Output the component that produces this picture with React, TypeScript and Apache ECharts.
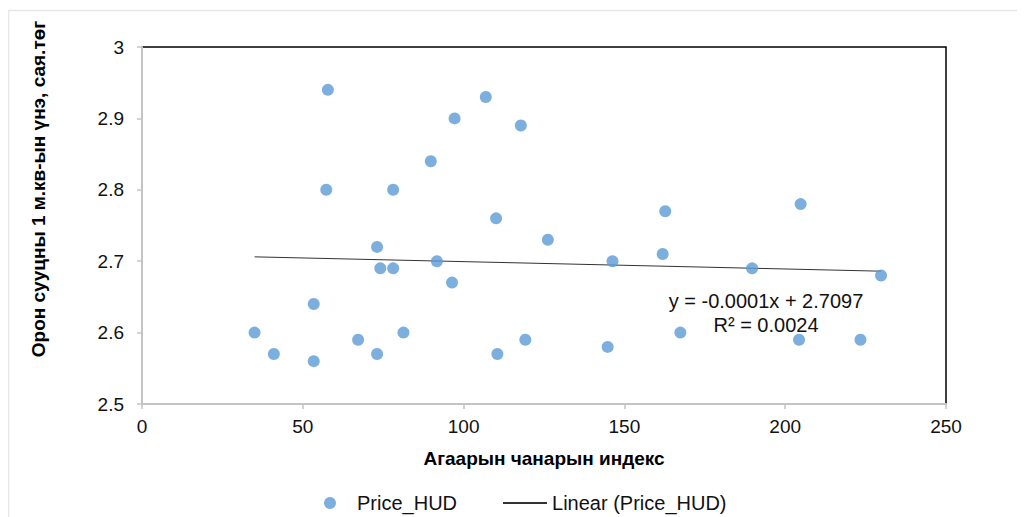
import React, { useEffect, useRef } from "react";
import * as echarts from "echarts";

const airQuality = [35, 41, 53.4, 53.4, 57.8, 57.3, 67.2, 73.1, 74.1, 78.1, 73.1, 81.3, 78.1, 89.8, 91.7, 96.4, 97.2, 106.9, 110.1, 110.5, 117.8, 119.2, 126.2, 144.8, 146.3, 161.9, 162.7, 167.4, 189.7, 204.3, 204.8, 223.4, 229.8];
const priceHUD = [2.6, 2.57, 2.64, 2.56, 2.94, 2.8, 2.59, 2.72, 2.69, 2.69, 2.57, 2.6, 2.8, 2.84, 2.7, 2.67, 2.9, 2.93, 2.76, 2.57, 2.89, 2.59, 2.73, 2.58, 2.7, 2.71, 2.77, 2.6, 2.69, 2.59, 2.78, 2.59, 2.68];

const TREND_SLOPE = -0.000103;
const TREND_INTERCEPT = 2.7097;
const equationLines = ["y = -0.0001x + 2.7097", "R² = 0.0024"];

const xTitle = "Агаарын чанарын индекс";
const yTitle = "Орон сууцны 1 м.кв-ын үнэ, сая.төг";
const seriesName = "Price_HUD";
const trendName = "Linear (Price_HUD)";

const FONT = "'Liberation Sans', Arial, sans-serif";

export default function App() {
  const ref = useRef<HTMLDivElement>(null);
  useEffect(() => {
    if (!ref.current) return;
    document.body.style.overflow = "hidden";
    const chart = echarts.init(ref.current, undefined, { renderer: "svg" });
    const points = airQuality.map((x, i) => [x, priceHUD[i]]);
    const xMin = Math.min(...airQuality);
    const xMax = Math.max(...airQuality);
    const trend = [
      [xMin, TREND_INTERCEPT + TREND_SLOPE * xMin],
      [xMax, TREND_INTERCEPT + TREND_SLOPE * xMax],
    ];
    chart.setOption({
      animation: false,
      textStyle: { fontFamily: FONT },
      grid: {
        left: 134,
        top: 39,
        width: 804,
        height: 357,
        show: true,
        borderColor: "#000",
        borderWidth: 1.5,
        backgroundColor: "transparent",
      },
      xAxis: {
        type: "value",
        min: 0,
        max: 250,
        interval: 50,
        name: xTitle,
        nameLocation: "middle",
        nameGap: 45,
        nameTextStyle: { fontSize: 19, fontWeight: "bold", color: "#000", fontFamily: FONT },
        axisLine: { show: true, onZero: false, lineStyle: { color: "#c4c4c4", width: 2 } },
        axisTick: { show: true, length: 5, lineStyle: { color: "#c4c4c4", width: 1.5 } },
        axisLabel: { fontSize: 19, color: "#111", margin: 13, fontFamily: FONT },
        splitLine: { show: false },
      },
      yAxis: {
        type: "value",
        min: 2.5,
        max: 3,
        interval: 0.1,
        axisLine: { show: true, onZero: false, lineStyle: { color: "#c4c4c4", width: 2 } },
        axisTick: { show: true, length: 5, lineStyle: { color: "#c4c4c4", width: 1.5 } },
        axisLabel: {
          fontSize: 19,
          color: "#111",
          margin: 18,
          fontFamily: FONT,
          formatter: (v: number) => String(Math.round(v * 10) / 10),
        },
        splitLine: { show: false },
      },
      legend: {
        left: 316,
        top: 485,
        padding: 0,
        itemWidth: 44,
        itemHeight: 12,
        itemGap: 45,
        textStyle: { fontSize: 20, color: "#111", fontFamily: FONT },
        data: [
          { name: seriesName, icon: "circle" },
          { name: trendName, itemStyle: { color: "rgba(0,0,0,0)", borderWidth: 0, opacity: 0 } },
        ],
      },
      series: [
        {
          type: "scatter",
          name: seriesName,
          data: points,
          symbolSize: 12,
          itemStyle: { color: "#5B9BD5" },
          z: 3,
        },
        {
          type: "line",
          name: trendName,
          data: trend,
          symbol: "none",
          lineStyle: { color: "#333", width: 1 },
          itemStyle: { color: "#333" },
          z: 2,
        },
      ],
      graphic: [
        {
          type: "rect",
          shape: { x: 0.5, y: 2.5, width: 1100, height: 600 },
          style: { fill: "none", stroke: "#e6e6e6", lineWidth: 1.5 },
          silent: true,
          z: -10,
        },
        {
          type: "text",
          x: 30,
          y: 181,
          rotation: Math.PI / 2,
          style: {
            text: yTitle,
            fontSize: 19,
            fontWeight: "bold",
            fill: "#000",
            fontFamily: FONT,
            align: "center",
            verticalAlign: "middle",
          },
        },
        {
          type: "text",
          x: 758,
          y: 293,
          style: {
            text: equationLines[0],
            fontSize: 20,
            fill: "#111",
            fontFamily: FONT,
            align: "center",
            verticalAlign: "middle",
          },
        },
        {
          type: "text",
          x: 758,
          y: 317,
          style: {
            text: equationLines[1],
            fontSize: 20,
            fill: "#111",
            fontFamily: FONT,
            align: "center",
            verticalAlign: "middle",
          },
        },
      ],
    });
    return () => chart.dispose();
  }, []);
  return <div ref={ref} style={{ width: 1009, height: 509 }} />;
}
